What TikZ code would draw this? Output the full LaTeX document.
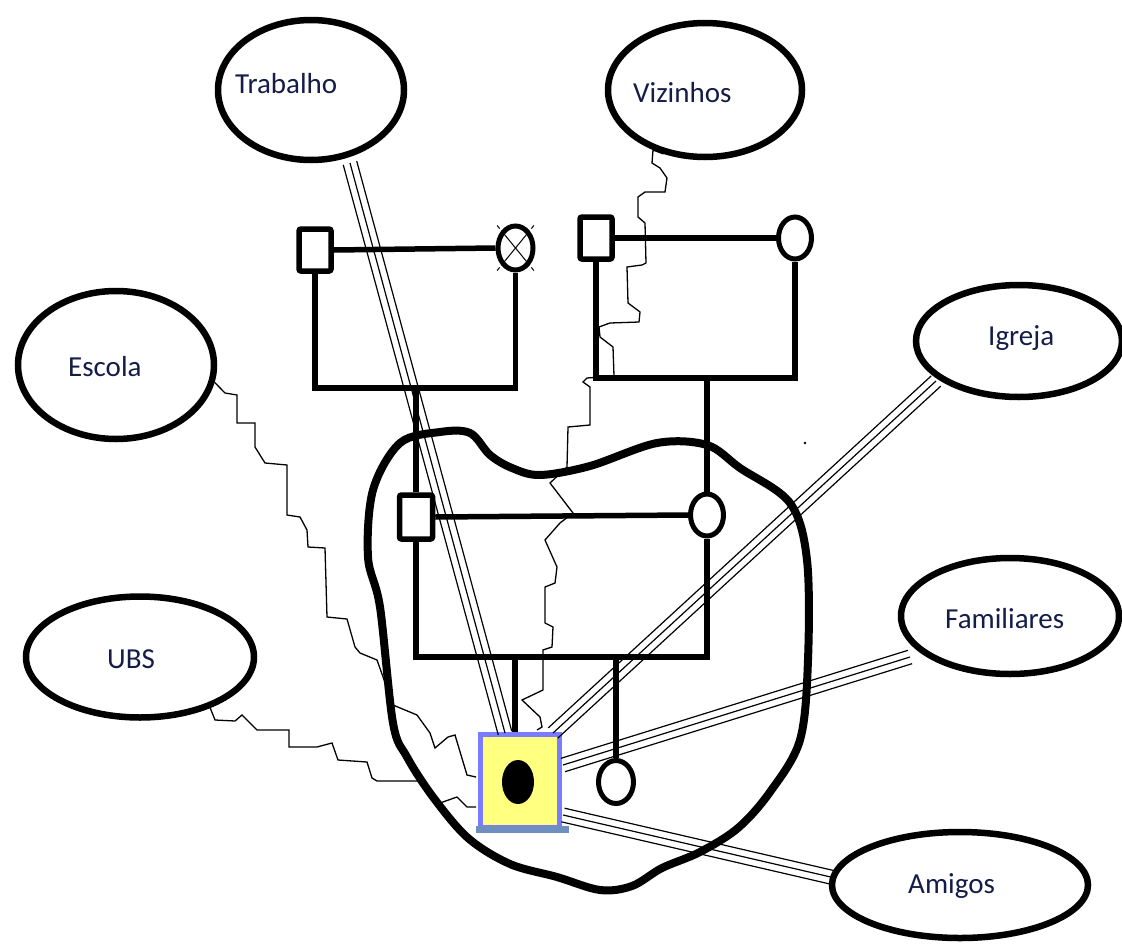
\documentclass[tikz,border=0pt]{standalone}
\usepackage{fontspec}
\setmainfont{Carlito}
\usetikzlibrary{calc,shapes.geometric}
\definecolor{txtc}{HTML}{141C48}
\definecolor{idxblue}{HTML}{7B7BFF}
\definecolor{idxyellow}{HTML}{FFFF80}
\definecolor{idxbot}{HTML}{6F8FC0}
\newcommand{\triline}[2]{%
  \draw[thinl] (#1) -- (#2);
  \draw[thinl] ($(#1)!7pt!90:(#2)$) -- ($(#2)!7pt!-90:(#1)$);
  \draw[thinl] ($(#1)!7pt!-90:(#2)$) -- ($(#2)!7pt!90:(#1)$);
}
\begin{document}
\begin{tikzpicture}[x=1pt,y=-1pt,
  rel/.style={draw, ellipse, line width=6.5pt, inner sep=0pt},
  lbl/.style={anchor=base west, font=\fontsize{29}{29}\selectfont, text=txtc, inner sep=0pt},
  gl/.style={line width=5.5pt, line join=miter},
  male/.style={draw, rectangle, line width=5.5pt, minimum width=32pt, minimum height=42pt, inner sep=0pt, rounded corners=2pt},
  female/.style={draw, ellipse, line width=5pt, minimum width=33pt, minimum height=42pt, inner sep=0pt},
  wavy/.style={line width=1.3pt, line join=miter},
  thinl/.style={line width=1.2pt},
]
\useasboundingbox (0,0) rectangle (1122,945);
\fill[white] (0,0) rectangle (1122,945);

% relationship ellipses
\node[rel, minimum width=186pt, minimum height=140pt] (trab) at (311,90) {};
\node[rel, minimum width=194pt, minimum height=134pt] (viz) at (705,90) {};
\node[rel, minimum width=196pt, minimum height=148pt] (esc) at (116,365) {};
\node[rel, minimum width=206pt, minimum height=112pt] (igr) at (1019,341) {};
\node[rel, minimum width=228pt, minimum height=121pt] (ubs) at (140,657) {};
\node[rel, minimum width=218pt, minimum height=116pt] (fam) at (1010,616) {};
\node[rel, minimum width=256pt, minimum height=106pt] (ami) at (960,885) {};

\node[lbl] (ttrab) at (235,93) {Trabalho};
\node[lbl] (tviz) at (633,102) {Vizinhos};
\node[lbl] (tesc) at (68,376) {Escola};
\node[lbl] (tigr) at (988,345) {Igreja};
\node[lbl] (tubs) at (107,668) {UBS};
\node[lbl] (tfam) at (945,628) {Familiares};
\node[lbl] (tami) at (908,893) {Amigos};

% household boundary
\draw[line width=8pt] plot[smooth cycle, tension=0.55] coordinates {
 (400,443) (440,432) (470,433) (490,455) (512,468) (540,475) (590,466)
 (657,443) (707,445) (740,468) (790,503) (807,560) (808,660) (800,740)
 (770,792) (738,828) (700,852) (662,868) (632,886) (600,890) (557,877)
 (510,864) (468,838) (433,797) (407,757) (393,723) (380,607) (368,557) (373,490)};

% genogram
\node[male] (gf1) at (315,250) {};
\node[female, minimum width=35pt, minimum height=44pt] (gm1) at (515.5,248) {};
\node[male] (gf2) at (596,238) {};
\node[female] (gm2) at (795,238) {};
\node[male, minimum width=33pt, minimum height=44pt] (fa) at (416,517) {};
\node[female] (mo) at (707,515) {};
\node[female, minimum width=35pt, minimum height=43pt] (sib) at (616,782) {};

\coordinate (c1) at (416,388);
\coordinate (c2) at (707,378);
\coordinate (c3) at (515,657);
\coordinate (c4) at (616,657);

\draw[gl] (gf1.east) -- (gm1.west);
\draw[gl] (gf1.south) |- (c1) -| (gm1.south);
\draw[gl] (c1) -- (fa.north);
\draw[gl] (gf2.east) -- (gm2.west);
\draw[gl] (gf2.south) |- (c2) -| (gm2.south);
\draw[gl] (c2) -- (mo.north);
\draw[gl] (fa.east) -- (mo.west);
\draw[gl] (fa.south) |- (c3) -| (mo.south);
\draw[gl] (c4) -- (sib.north);

% deceased cross
\draw[line width=1pt] (gm1.north east) -- (gm1.south west);
\draw[line width=1pt] (gm1.north west) -- (gm1.south east);
\foreach \a in {north east, north west, south east, south west}{
  \draw[line width=1pt] ($(gm1.center)!1.12!(gm1.\a)$) -- ($(gm1.center)!1.3!(gm1.\a)$);
}

% index person
\node[draw=idxblue, fill=idxyellow, line width=5pt, minimum width=79pt, minimum height=93pt, inner sep=0pt] (idx) at (520,781) {};
\draw[gl] (c3) -- (c3 |- idx.north);
\draw[idxbot, line width=7pt] ($(idx.south west)+(-2,-1)$) -- ($(idx.south east)+(7,-1)$);
\node[fill=black, ellipse, minimum width=32pt, minimum height=44pt, inner sep=0pt] (idot) at (518,782) {};

% strong ties (triple lines)
\coordinate (ts1) at (350,163); \coordinate (ts2) at (505,733);
\coordinate (is1) at (936,381); \coordinate (is2) at (553,733);
\coordinate (fs1) at (910,657); \coordinate (fs2) at (563,765);
\coordinate (as1) at (835,878); \coordinate (as2) at (563,815);
\triline{ts1}{ts2}
\triline{is1}{is2}
\triline{fs1}{fs2}
\triline{as1}{as2}

% conflictual ties (jagged lines)
\draw[wavy] (esc.-10) -- (225,393) -- (237,395) -- (237,423) -- (255,423) -- (255,447)
  -- (265,463) -- (287,465) -- (287,515) -- (300,517) -- (307,530) -- (308,547)
  -- (325,548) -- (327,617) -- (347,619) -- (355,647) -- (360,653) -- (377,660)
  -- (393,705) -- (417,715) -- (430,733) -- (435,748) -- (448,737) -- (455,735)
  -- (467,775) -- ($(idx.west)+(-2,-4)$);
\draw[wavy] (ubs.-36) -- (215,720) -- (235,721) -- (242,715) -- (257,730) -- (289,730)
  -- (289,747) -- (317,747) -- (332,743) -- (338,760) -- (367,762) -- (372,778)
  -- (377,781) -- (420,781) -- (440,803) -- (457,797) -- (467,807) -- ($(idx.west)+(-2,26)$);
\draw[wavy] (viz.-123) -- (653,150) -- (652,163) -- (660,168) -- (667,178) -- (665,192)
  -- (645,192) -- (638,197) -- (638,217) -- (645,223) -- (646,263) -- (642,265)
  -- (627,267) -- (628,303) -- (640,312) -- (639,322) -- (610,323) -- (599,327)
  -- (600,337) -- (613,347) -- (614,376) -- (587,378) -- (583,382) -- (590,387)
  -- (590,425) -- (568,427) -- (567,467) -- (550,483) -- (573,513) -- (560,523)
  -- (545,540) -- (557,567) -- (555,583) -- (545,587) -- (545,623) -- (553,627)
  -- (552,647) -- (543,650) -- (543,690) -- (522,700) -- (540,717) -- (542,727)
  -- ($(idx.north)+(17,-2)$);

\fill (805,443) circle (1.3pt);
\end{tikzpicture}
\end{document}
